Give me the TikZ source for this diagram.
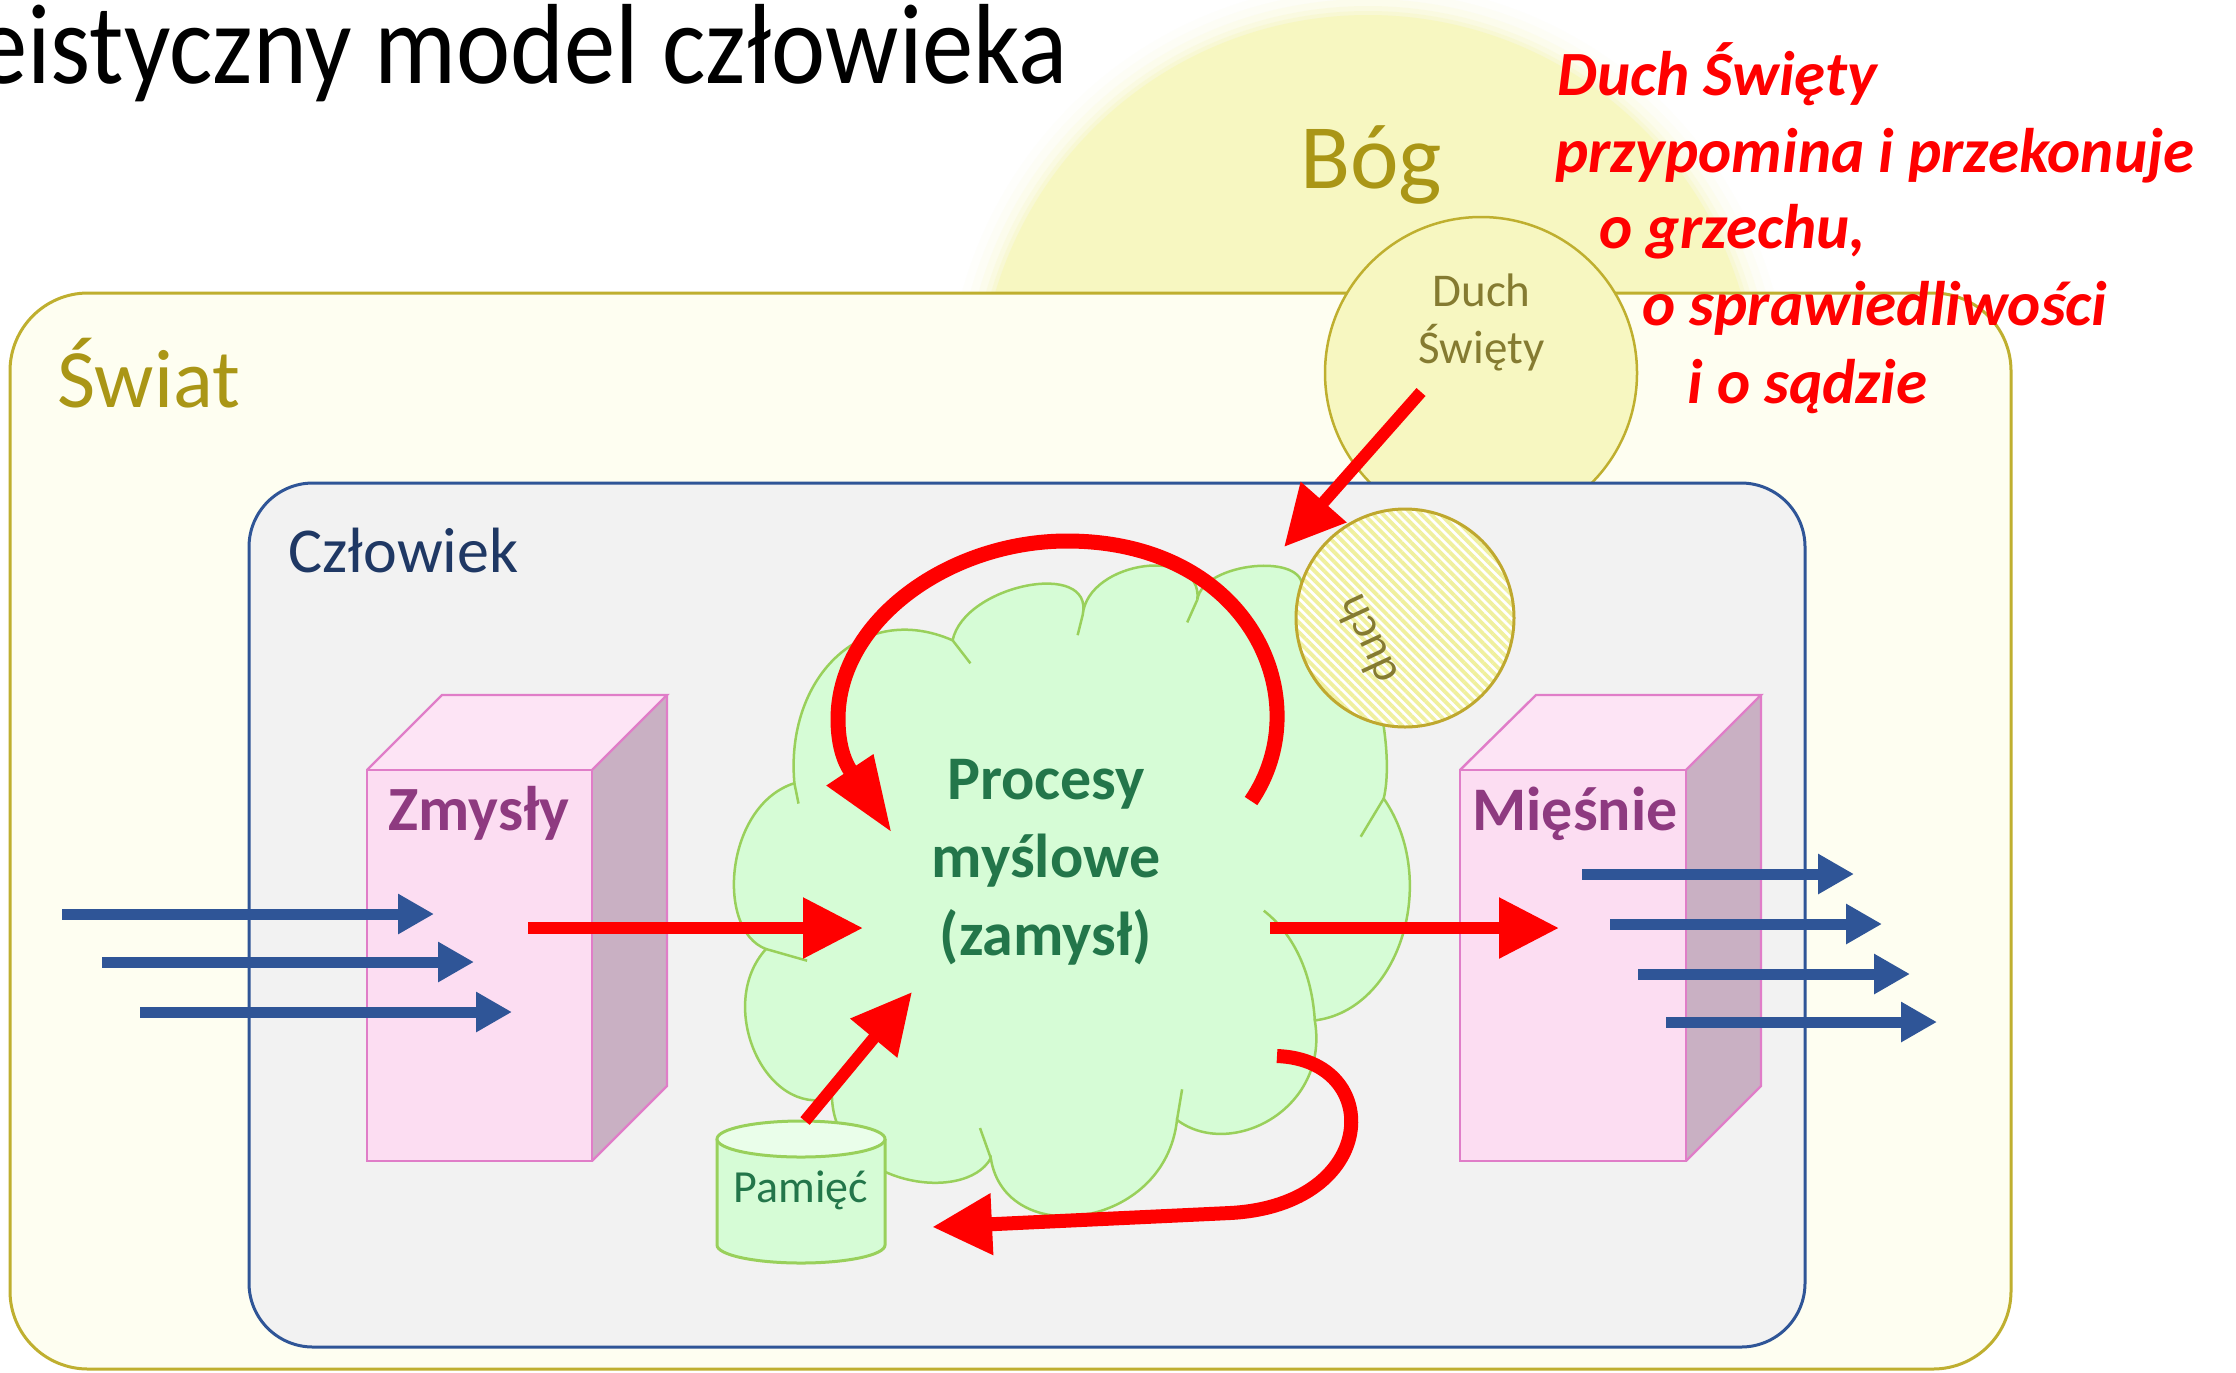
\documentclass[tikz,border=0pt]{standalone}
\usepackage{fontspec}
\setmainfont{Carlito}
\usetikzlibrary{arrows.meta,patterns.meta}
\definecolor{bogfill}{HTML}{F7F7C1}
\definecolor{swiatfill}{HTML}{FEFEF1}
\definecolor{swiatline}{HTML}{BFAF2F}
\definecolor{olivetext}{HTML}{AA9616}
\definecolor{dstext}{HTML}{857B31}
\definecolor{czlfill}{HTML}{F2F2F2}
\definecolor{czlline}{HTML}{2F5597}
\definecolor{czltext}{HTML}{1F3864}
\definecolor{pinkfront}{HTML}{FCDDF2}
\definecolor{pinktop}{HTML}{FDE4F5}
\definecolor{pinkside}{HTML}{C9B0C3}
\definecolor{pinkline}{HTML}{E07DC8}
\definecolor{pinktext}{HTML}{8E3A80}
\definecolor{cloudfill}{HTML}{D6FCD6}
\definecolor{cloudline}{HTML}{99D05B}
\definecolor{cloudtext}{HTML}{23764A}
\definecolor{cyltop}{HTML}{EAFEEA}
\definecolor{hatch}{HTML}{F0F09E}
\definecolor{duchline}{HTML}{BFA82E}
\definecolor{arrowblue}{HTML}{2F5597}
\definecolor{arrowred}{HTML}{FF0000}
\begin{document}
\begin{tikzpicture}[x=0.5pt,y=-0.5pt,
  redarrow/.style={draw=arrowred,line width=6pt,-{Triangle[length=30pt,width=29pt]}},
  looparrow/.style={draw=arrowred,line width=7.5pt,-{Triangle[length=38pt,width=26pt]}},
  bluearrow/.style={draw=arrowblue,line width=5.5pt,-{Triangle[length=18pt,width=19pt]}},
  pinkbox/.style={draw=pinkline,line width=1.2pt,line join=miter},
  cloudstroke/.style={draw=cloudline,line width=1.25pt},
  redtxt/.style={anchor=base west,inner sep=0pt,text=arrowred,font=\fontsize{31.5}{38}\selectfont\bfseries\itshape},
  plain/.style={inner sep=0pt}]
\useasboundingbox (0,0) rectangle (2236,1372);
\fill[white] (0,0) rectangle (2236,1372);

% God circle with soft glow
\foreach \r/\o in {421/0.06,413/0.1,405/0.16,398/0.25,393/0.4}
  \fill[bogfill,opacity=\o] (1368,404) circle[radius=\r];
\fill[bogfill] (1368,404) circle[radius=389];

% World
\draw[draw=swiatline,fill=swiatfill,line width=1.5pt,rounded corners=39pt] (10,293) rectangle (2011,1369);
\node[plain,anchor=base west,text=olivetext,font=\fontsize{41.5}{50}\selectfont] (swiat) at (57,407) {Świat};
\node[plain,anchor=base west,text=olivetext,font=\fontsize{46}{55}\selectfont] (bog) at (1300,188) {Bóg};

% Holy Spirit circle
\draw[draw=swiatline,fill=bogfill,line width=1.25pt] (1481,373) circle[radius=156];
\node[plain,align=center,text=dstext,font=\fontsize{23.5}{28.5}\selectfont] (ds) at (1481.5,322) {Duch\\Święty};

% Man
\draw[draw=czlline,fill=czlfill,line width=1.5pt,rounded corners=32pt] (249,483) rectangle (1805,1347);
\node[plain,anchor=base west,text=czltext,font=\fontsize{32}{38}\selectfont] (czlowiek) at (288,572) {Człowiek};

% Zmysly cuboid
\fill[pinkfront] (367,770) rectangle (592,1161);
\fill[pinktop] (367,770) -- (442,695) -- (667,695) -- (592,770) -- cycle;
\fill[pinkside] (592,770) -- (667,695) -- (667,1086) -- (592,1161) -- cycle;
\draw[pinkbox] (367,770) rectangle (592,1161);
\draw[pinkbox] (367,770) -- (442,695) -- (667,695) -- (592,770);
\draw[pinkbox] (667,695) -- (667,1086) -- (592,1161);
\node[plain,anchor=base west,text=pinktext,font=\fontsize{31.5}{38}\selectfont\bfseries] (zmysly) at (388,830) {Zmysły};

% Miesnie cuboid
\fill[pinkfront] (1460,770) rectangle (1686,1161);
\fill[pinktop] (1460,770) -- (1536,695) -- (1761,695) -- (1686,770) -- cycle;
\fill[pinkside] (1686,770) -- (1761,695) -- (1761,1086) -- (1686,1161) -- cycle;
\draw[pinkbox] (1460,770) rectangle (1686,1161);
\draw[pinkbox] (1460,770) -- (1536,695) -- (1761,695) -- (1686,770);
\draw[pinkbox] (1761,695) -- (1761,1086) -- (1686,1161);
\node[plain,anchor=base west,text=pinktext,font=\fontsize{31}{38}\selectfont\bfseries] (miesnie) at (1472,830) {Mięśnie};

% Cloud
\filldraw[cloudstroke,fill=cloudfill] (952.6,640.3)
  .. controls (964.4,584.5) and (1094.5,559.0) .. (1082.7,614.8)
  .. controls (1087.8,560.3) and (1202.5,545.0) .. (1197.4,599.5)
  .. controls (1202.6,562.2) and (1307.2,551.7) .. (1302,589)
  .. controls (1350,560) and (1400,730) .. (1383.7,798.5)
  .. controls (1440,880) and (1400,1010) .. (1314.8,1020.4)
  .. controls (1330,1110) and (1230,1160) .. (1177,1119.9)
  .. controls (1165,1230) and (1005,1250) .. (990.8,1158.2)
  .. controls (965,1205) and (835,1185) .. (832,1098)
  .. controls (765,1118) and (715,1005) .. (766,949)
  .. controls (715,930) and (725,805) .. (794.4,783.2)
  .. controls (785,680) and (860,600) .. (952.6,640.3) -- cycle;
\draw[cloudstroke] (952.6,640.3) -- (970.4,663.3);
\draw[cloudstroke] (1082.7,614.8) -- (1077.6,635.2);
\draw[cloudstroke] (1197.4,599.5) -- (1187.2,622.4);
\draw[cloudstroke] (1383.7,798.5) -- (1360.7,836.7);
\draw[cloudstroke] (1263.8,910.7) .. controls (1295,935) and (1312,975) .. (1314.8,1020.4);
\draw[cloudstroke] (1177,1119.9) -- (1182.1,1089.3);
\draw[cloudstroke] (990.8,1158.2) -- (980,1128);
\draw[cloudstroke] (766,949) -- (807.1,960.7);
\draw[cloudstroke] (794.4,783.2) -- (798.5,803.6);
\node[plain,align=center,text=cloudtext,font=\fontsize{31}{39}\selectfont\bfseries] (procesy) at (1046,862) {Procesy\\myślowe\\(zamysł)};

% spirit of man (hatched)
\fill[white] (1405,618) circle[radius=109];
\path[pattern={Lines[angle=-45,distance=3.4pt,line width=1.9pt]},pattern color=hatch] (1405,618) circle[radius=109];
\draw[draw=duchline,line width=1.5pt] (1405,618) circle[radius=109];
\node[plain,rotate=115,text=dstext,font=\fontsize{23}{28}\selectfont] (duch) at (1366,640) {duch};

% Memory cylinder
\filldraw[draw=cloudline,fill=cloudfill,line width=1.5pt] (717,1139) -- (717,1245) arc[start angle=180,end angle=0,x radius=84,y radius=18] -- (885,1139);
\filldraw[draw=cloudline,fill=cyltop,line width=1.5pt] (801,1139) ellipse[x radius=84,y radius=18];
\node[plain,anchor=base west,text=cloudtext,font=\fontsize{23}{28}\selectfont] (pamiec) at (733,1202) {Pamięć};

% arrow end points
\coordinate (zmS) at (528,928);   \coordinate (zmT) at (863,928);
\coordinate (miS) at (1270,928);  \coordinate (miT) at (1559,928);
\coordinate (paS) at (805,1121);  \coordinate (paT) at (912,992);
\coordinate (dsS) at (1421,392);  \coordinate (dsT) at (1284,547);
\coordinate (loS) at (1251,801);  \coordinate (loT) at (892,833);
\coordinate (reS) at (1277,1056); \coordinate (reT) at (932,1227);
\coordinate (b1S) at (62,914);    \coordinate (b1T) at (434,914);
\coordinate (b2S) at (102,962);   \coordinate (b2T) at (474,962);
\coordinate (b3S) at (140,1012);  \coordinate (b3T) at (512,1012);
\coordinate (c1S) at (1582,874);  \coordinate (c1T) at (1854,874);
\coordinate (c2S) at (1610,924);  \coordinate (c2T) at (1882,924);
\coordinate (c3S) at (1638,974);  \coordinate (c3T) at (1910,974);
\coordinate (c4S) at (1666,1022); \coordinate (c4T) at (1937,1022);

% red arrows
\draw[redarrow] (zmS) -- (zmT);
\draw[redarrow] (miS) -- (miT);
\draw[redarrow] (paS) -- (paT);
\draw[redarrow] (dsS) -- (dsT);
\draw[looparrow] (loS) .. controls (1320,700) and (1250,541) .. (1067,541)
  .. controls (950,541) and (838,620) .. (838,719)
  .. controls (838,755) and (850,770) .. (loT);
\draw[redarrow,line width=7pt] (reS) .. controls (1385,1060) and (1380,1205) .. (1230,1213) -- (reT);

% blue arrows
\draw[bluearrow] (b1S) -- (b1T);
\draw[bluearrow] (b2S) -- (b2T);
\draw[bluearrow] (b3S) -- (b3T);
\draw[bluearrow] (c1S) -- (c1T);
\draw[bluearrow] (c2S) -- (c2T);
\draw[bluearrow] (c3S) -- (c3T);
\draw[bluearrow] (c4S) -- (c4T);

% red text
\node[redtxt] (r1) at (1557,95) {Duch Święty};
\node[redtxt] (r2) at (1555,172) {przypomina i przekonuje};
\node[redtxt] (r3) at (1599,248) {o grzechu,};
\node[redtxt] (r4) at (1642,325) {o sprawiedliwości};
\node[redtxt] (r5) at (1687,403) {i o sądzie};

% title
\node[plain,anchor=base east,xscale=0.9,font=\fontsize{57}{64}\selectfont] (title) at (1068,83) {eistyczny model człowieka};
\end{tikzpicture}
\end{document}
